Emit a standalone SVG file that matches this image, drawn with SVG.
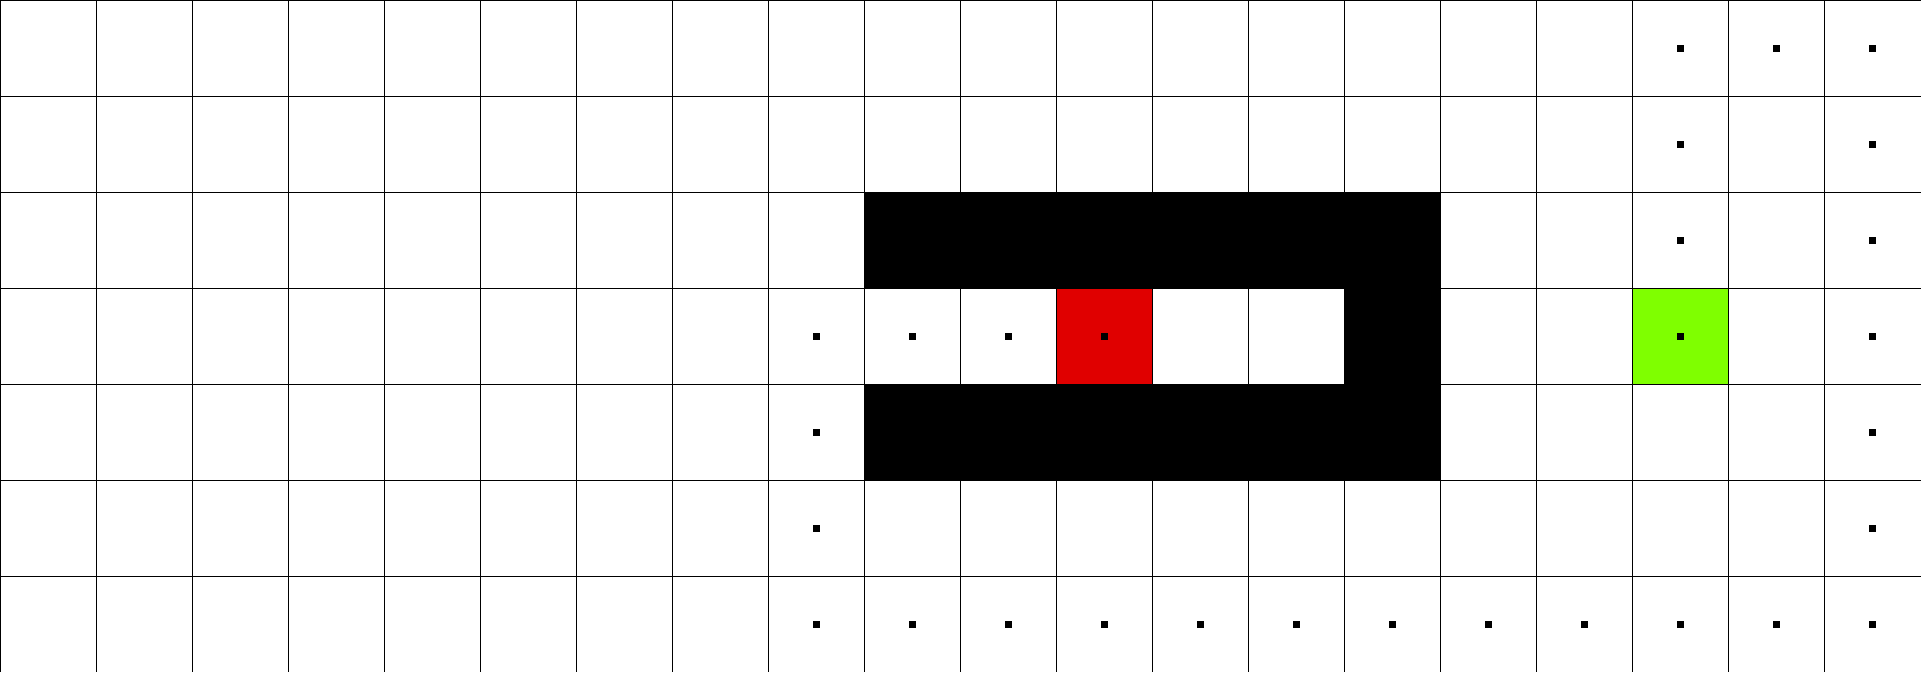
<svg xmlns="http://www.w3.org/2000/svg" xmlns:xlink="http://www.w3.org/1999/xlink" width="1921" height="673" viewBox="0 0 1921 673">
<style>
.grid{stroke:#000;stroke-width:1;fill:none}
.wall{fill:#000}
.dot{fill:#000}
</style>
<defs>
<rect id="d" class="dot" width="7" height="7"/>
</defs>
<rect width="1921" height="673" fill="#fff"/>
<g id="start"><rect x="1057" y="289" width="95" height="95" fill="#e00000"/></g>
<g id="goal"><rect x="1633" y="289" width="95" height="95" fill="#7fff00"/></g>
<g id="gridlines" class="grid">
<path d="M0.5 0V672M96.5 0V672M192.5 0V672M288.5 0V672M384.5 0V672M480.5 0V672M576.5 0V672M672.5 0V672M768.5 0V672M864.5 0V672M960.5 0V672M1056.5 0V672M1152.5 0V672M1248.5 0V672M1344.5 0V672M1440.5 0V672M1536.5 0V672M1632.5 0V672M1728.5 0V672M1824.5 0V672"/>
<path d="M0 0.5H1921M0 96.5H1921M0 192.5H1921M0 288.5H1921M0 384.5H1921M0 480.5H1921M0 576.5H1921"/>
</g>
<g id="walls">
<rect class="wall" x="864" y="192" width="577" height="97"/>
<rect class="wall" x="1344" y="288" width="97" height="97"/>
<rect class="wall" x="864" y="384" width="577" height="97"/>
</g>
<g id="path">
<use xlink:href="#d" x="1677" y="45"/><use xlink:href="#d" x="1773" y="45"/><use xlink:href="#d" x="1869" y="45"/>
<use xlink:href="#d" x="1677" y="141"/><use xlink:href="#d" x="1869" y="141"/>
<use xlink:href="#d" x="1677" y="237"/><use xlink:href="#d" x="1869" y="237"/>
<use xlink:href="#d" x="813" y="333"/><use xlink:href="#d" x="909" y="333"/><use xlink:href="#d" x="1005" y="333"/><use xlink:href="#d" x="1101" y="333"/><use xlink:href="#d" x="1677" y="333"/><use xlink:href="#d" x="1869" y="333"/>
<use xlink:href="#d" x="813" y="429"/><use xlink:href="#d" x="1869" y="429"/>
<use xlink:href="#d" x="813" y="525"/><use xlink:href="#d" x="1869" y="525"/>
<use xlink:href="#d" x="813" y="621"/><use xlink:href="#d" x="909" y="621"/><use xlink:href="#d" x="1005" y="621"/><use xlink:href="#d" x="1101" y="621"/><use xlink:href="#d" x="1197" y="621"/><use xlink:href="#d" x="1293" y="621"/><use xlink:href="#d" x="1389" y="621"/><use xlink:href="#d" x="1485" y="621"/><use xlink:href="#d" x="1581" y="621"/><use xlink:href="#d" x="1677" y="621"/><use xlink:href="#d" x="1773" y="621"/><use xlink:href="#d" x="1869" y="621"/>
</g>
</svg>
